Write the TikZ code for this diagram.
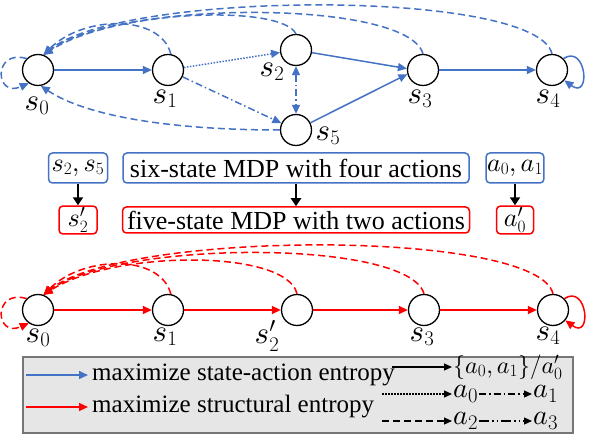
\documentclass[tikz,border=0pt]{standalone}
\usepackage{fontspec}
\setmainfont{Liberation Serif}
\usepackage{tikz}
\usetikzlibrary{arrows.meta}
% scalable math fonts for the large labels
\DeclareFontShape{OML}{cmm}{m}{it}{<->cmmi10}{}
\DeclareFontShape{OMS}{cmsy}{m}{n}{<->cmsy10}{}

\definecolor{sablue}{RGB}{68,114,196}
\definecolor{sered}{RGB}{255,0,0}
\definecolor{legfill}{RGB}{231,230,230}
\definecolor{legline}{RGB}{118,118,118}

\begin{document}
\begin{tikzpicture}[x=1pt,y=-1pt,
  st/.style={circle,draw=black,line width=1.3pt,minimum size=31pt,inner sep=0pt},
  lab/.style={inner sep=0pt,font=\fontsize{31}{33}\selectfont},
  bl/.style={sablue,line width=1.5pt,-{Triangle[length=9pt,width=8pt]}},
  rd/.style={sered,line width=1.5pt,-{Triangle[length=9pt,width=8pt]}},
  blk/.style={black,line width=1.2pt,-{Triangle[length=8pt,width=7pt]}},
  aZero/.style={dash pattern=on 1.5pt off 1.5pt},
  aOne/.style={dash pattern=on 7pt off 3pt on 1.5pt off 3pt},
  aTwo/.style={dash pattern=on 7pt off 4pt},
  aThree/.style={dash pattern=on 10pt off 3pt on 1.5pt off 3pt on 1.5pt off 3pt},
  bbox/.style={draw=sablue,line width=1.5pt,rounded corners=4pt,inner sep=1pt,minimum height=30pt},
  rbox/.style={draw=sered,line width=1.5pt,rounded corners=4pt,inner sep=1pt,minimum height=26pt},
  txt/.style={font=\fontsize{26}{28}\selectfont},
  mth/.style={font=\fontsize{26}{28}\selectfont},
  dnarrow/.style={line width=2.5pt,-{Triangle[length=8pt,width=10pt]}},
  legbox/.style={draw=legline,fill=legfill,line width=2pt,minimum width=550pt,minimum height=76pt,inner sep=0pt},
  leg/.style={font=\fontsize{25}{27}\selectfont,inner xsep=1pt,inner ysep=0pt},
  legm/.style={font=\fontsize{24}{26}\selectfont,inner xsep=1pt,inner ysep=0pt},
  legs/.style={font=\fontsize{28}{30}\selectfont,inner xsep=1pt,inner ysep=0pt}]
\useasboundingbox (0,0) rectangle (591,435);

% six-state MDP
\draw (38,70) node[st] (S0) {} +(-1,36) node[lab] (L0) {$s_0$};
\draw (168,70) node[st] (S1) {} +(-3,29) node[lab] (L1) {$s_1$};
\draw (296,50) node[st] (S2) {} +(-24,22) node[lab] (L2) {$s_2$};
\draw (296,130) node[st] (S5) {} +(32,6) node[lab] (L5) {$s_5$};
\draw (423,70) node[st] (S3) {} +(-3,29) node[lab] (L3) {$s_3$};
\draw (552,70) node[st] (S4) {} +(-4,29) node[lab] (L4) {$s_4$};
\draw[bl] (S0)--(S1);
\draw[bl,aZero] (S1)--(S2);
\draw[bl,aOne] (S1)--(S5);
\draw[bl,aOne,{Triangle[length=9pt,width=8pt]}-{Triangle[length=9pt,width=8pt]}] (S2)--(S5);
\draw[bl] (S2)--(S3.175);
\draw[bl] (S5)--(S3.195);
\draw[bl] (S3)--(S4);
\draw[bl,aTwo] (S1.80) .. controls +(-10,-40) and +(40,-40) .. (S0.70);
\draw[bl,aTwo] (S2.north) .. controls +(-15,-30) and +(70,-45) .. (S0.70);
\draw[bl,aTwo] (S3.north) .. controls +(-15,-55) and +(75,-55) .. (S0.70);
\draw[bl,aTwo] (S4.north) .. controls +(-15,-65) and +(80,-65) .. (S0.70);
\draw[bl,aTwo] (S5.west) .. controls +(-110,0) and +(45,30) .. (S0.-80);
\draw[bl,aTwo] (S0.135) .. controls +(-34,-10) and +(-34,15) .. (S0.235);
\draw[bl] (S4.45) .. controls +(23,-15) and +(27,20) .. (S4.-40);

% reduction boxes
\draw (78,168) node[bbox,mth,minimum width=59pt] (B1) {$s_2,s_5$};
\draw (296,168) node[bbox,txt,minimum width=346pt] (B2) {six-state MDP with four actions};
\draw (515,168) node[bbox,mth,minimum width=56pt] (B3) {$a_0,a_1$};
\draw (78,220) node[rbox,mth,minimum width=38pt] (R1) {$s_2'$};
\draw (296,220) node[rbox,txt,minimum width=347pt] (R2) {five-state MDP with two actions};
\draw (515,220) node[rbox,mth,minimum width=37pt] (R3) {$a_0'$};
\draw[dnarrow] (B1)--(R1);
\draw[dnarrow] (B2)--(R2);
\draw[dnarrow] (B3)--(R3);

% five-state MDP
\draw (38,310) node[st] (T0) {} +(0,28) node[lab] (M0) {$s_0$};
\draw (168,310) node[st] (T1) {} +(-3,27) node[lab] (M1) {$s_1$};
\draw (297,310) node[st] (T2) {} +(-30,26) node[lab] (M2) {$s_2'$};
\draw (424,310) node[st] (T3) {} +(-2,27) node[lab] (M3) {$s_3$};
\draw (553,310) node[st] (T4) {} +(-5,26) node[lab] (M4) {$s_4$};
\draw[rd] (T0)--(T1);
\draw[rd] (T1)--(T2);
\draw[rd] (T2)--(T3);
\draw[rd] (T3)--(T4);
\draw[rd,aTwo] (T1.80) .. controls +(-10,-40) and +(40,-40) .. (T0.70);
\draw[rd,aTwo] (T2.north) .. controls +(-10,-45) and +(70,-45) .. (T0.70);
\draw[rd,aTwo] (T3.north) .. controls +(-15,-55) and +(75,-55) .. (T0.70);
\draw[rd,aTwo] (T4.north) .. controls +(-15,-65) and +(80,-65) .. (T0.70);
\draw[rd,aTwo] (T0.135) .. controls +(-34,-10) and +(-34,15) .. (T0.235);
\draw[rd] (T4.45) .. controls +(23,-15) and +(27,20) .. (T4.-40);

% legend
\node[legbox] (LEG) at (298,395) {};
\coordinate (LB) at (26,375);
\coordinate (LR) at (26,407);
\node[leg,anchor=west,inner xsep=4pt] (E1) at (88,375) {maximize state-action entropy};
\node[leg,anchor=west,inner xsep=4pt] (E2) at (88,407) {maximize structural entropy};
\draw[bl] (LB)--(E1.west);
\draw[rd] (LR)--(E2.west);
\coordinate (K1) at (392,367);
\coordinate (K2) at (382,394);
\coordinate (K3) at (382,421);
\node[legm,anchor=west] (F1) at (452,367) {$\{a_0,a_1\}/a_0'$};
\node[legs,anchor=west] (F2) at (452,394) {$a_0$};
\node[legs,anchor=west] (F3) at (532,394) {$a_1$};
\node[legs,anchor=west] (F4) at (452,421) {$a_2$};
\node[legs,anchor=west] (F5) at (532,421) {$a_3$};
\draw[blk] (K1)--(F1.west);
\draw[blk,aZero] (K2)--(F2.west);
\draw[blk,aOne] (F2.east)--(F3.west);
\draw[blk,aTwo] (K3)--(F4.west);
\draw[blk,aThree] (F4.east)--(F5.west);

\end{tikzpicture}
\end{document}
